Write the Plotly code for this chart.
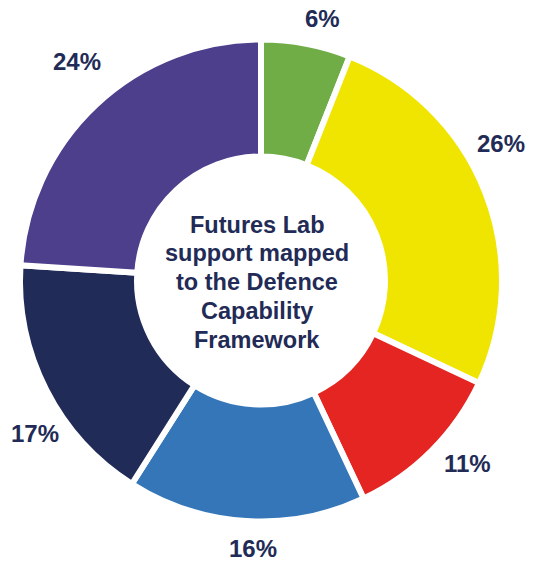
import math
import plotly.graph_objects as go

# Share of Futures Lab support per capability area (percent), clockwise from 12 o'clock
categories = ["Area 1", "Area 2", "Area 3", "Area 4", "Area 5", "Area 6"]
shares = [6, 26, 11, 16, 17, 24]
slice_colors = ["#71AD47", "#F0E500", "#E52521", "#3576B9", "#212B58", "#4D3F8C"]

center_lines = ["Futures Lab", "support mapped", "to the Defence", "Capability", "Framework"]

# Layout (pixels)
W, H = 535, 562
CX, CY = 261, 280.5          # centre of the ring
R_OUT = 241                  # outer radius incl. half of the white separator
GAP = 6                      # white separator width
R_IN_VISIBLE = 127
TEXT_COLOR = "#222B56"
FONT = "Liberation Sans, Arial, sans-serif"

# per-label nudges: (angle offset in degrees, radius in px)
label_nudge = [(2.5, 269), (-8.1, 276), (-3.4, 276), (-1.9, 268), (-7.2, 273), (3.2, 286)]

hole = (R_IN_VISIBLE - GAP / 2) / R_OUT

fig = go.Figure(
    go.Pie(
        labels=categories,
        values=shares,
        sort=False,
        direction="clockwise",
        rotation=0,
        hole=hole,
        marker=dict(colors=slice_colors, line=dict(color="white", width=GAP)),
        textinfo="none",
        hoverinfo="label+percent",
        showlegend=False,
        domain=dict(
            x=[(CX - R_OUT) / W, (CX + R_OUT) / W],
            y=[1 - (CY + R_OUT) / H, 1 - (CY - R_OUT) / H],
        ),
    )
)

annotations = []
total = sum(shares)
cum = 0
for v, (dang, rad) in zip(shares, label_nudge):
    mid = (cum + v / 2) / total * 360 + dang
    cum += v
    a = math.radians(mid)
    px = CX + rad * math.sin(a)
    py = CY - rad * math.cos(a)
    annotations.append(dict(
        x=px / W, y=1 - py / H, xref="paper", yref="paper",
        text=f"<b>{round(v / total * 100)}%</b>", showarrow=False,
        xanchor="center", yanchor="middle",
        font=dict(family=FONT, size=24, color=TEXT_COLOR),
    ))

# centre caption, one annotation per line for tight line spacing
LINE_STEP = 28.75
TEXT_CX = CX - 4
n = len(center_lines)
for i, line in enumerate(center_lines):
    py = CY + 1.7 + (i - (n - 1) / 2) * LINE_STEP
    annotations.append(dict(
        x=TEXT_CX / W, y=1 - py / H, xref="paper", yref="paper",
        text=f"<b>{line}</b>", showarrow=False,
        xanchor="center", yanchor="middle",
        font=dict(family=FONT, size=23.5, color=TEXT_COLOR),
    ))

fig.update_layout(
    width=W, height=H,
    margin=dict(l=0, r=0, t=0, b=0),
    paper_bgcolor="white",
    plot_bgcolor="white",
    annotations=annotations,
)

fig.write_html("out.html")
